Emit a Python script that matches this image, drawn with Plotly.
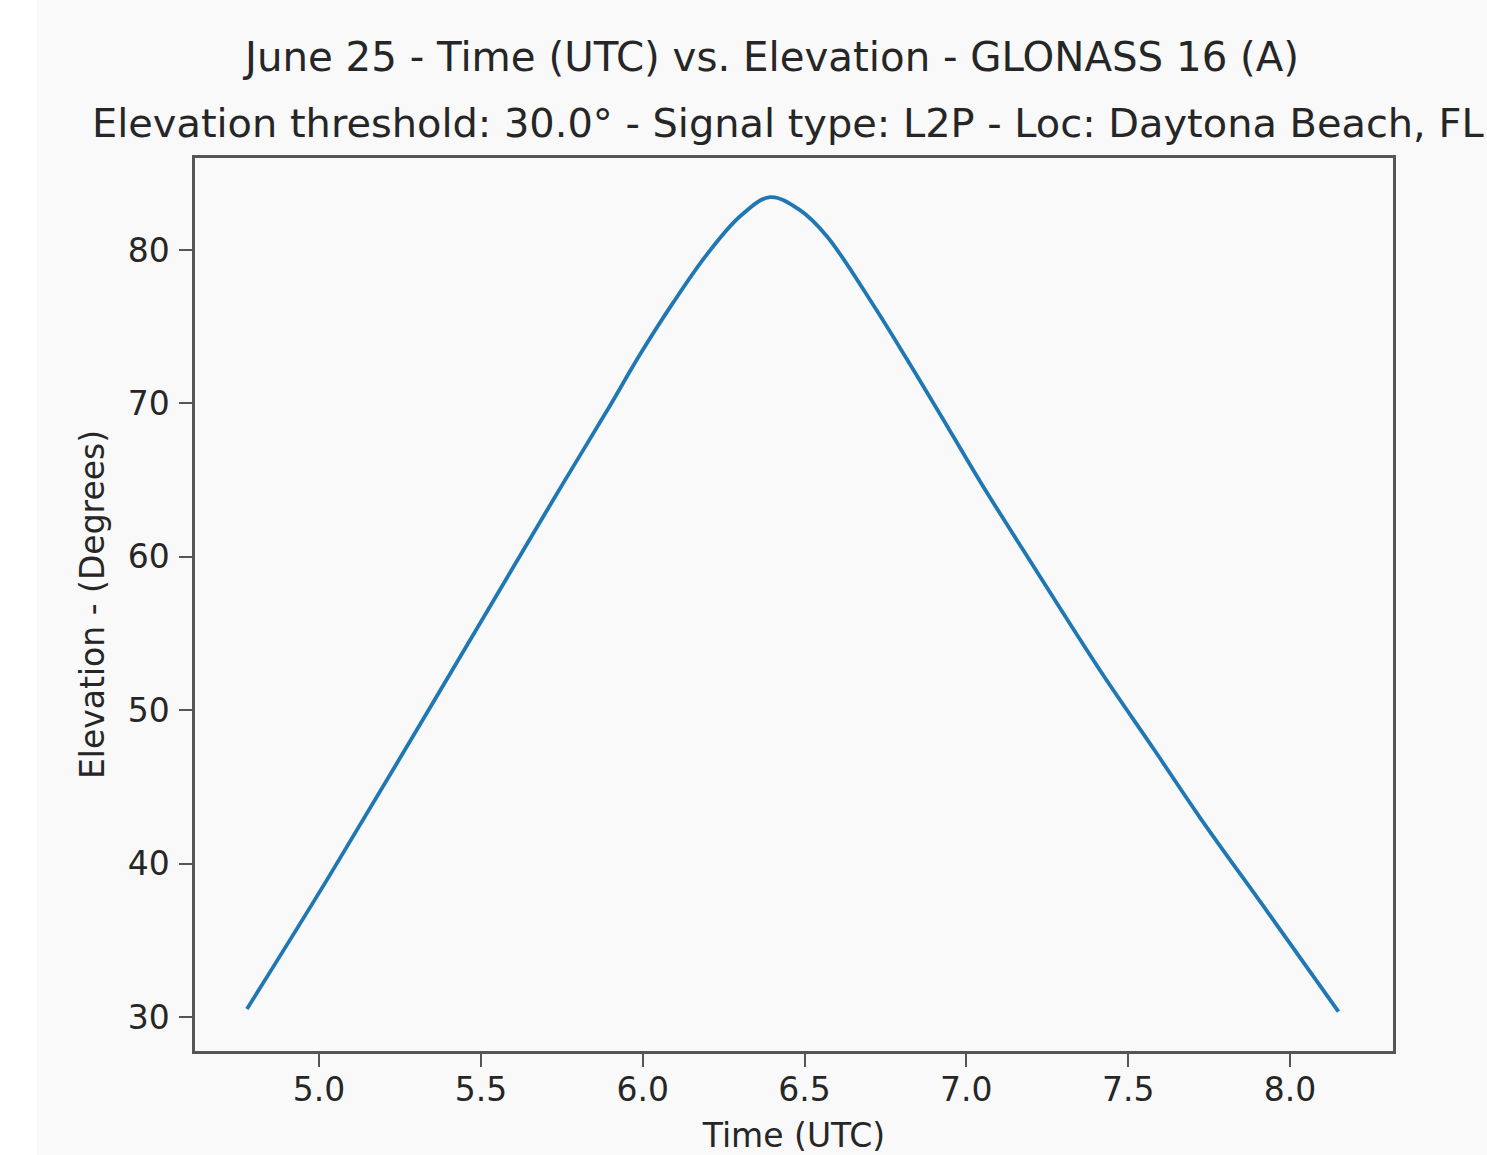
import plotly.graph_objects as go

# Data
time_utc = [4.777, 5.029, 5.338, 5.647, 5.760, 5.889, 5.992, 6.095, 6.198, 6.301,
            6.394, 6.486, 6.569, 6.713, 6.816, 6.919, 7.043, 7.207, 7.413, 7.578,
            7.722, 7.929, 8.150]
elevation = [30.52, 39.1, 50.0, 61.0, 65.0, 69.5, 73.2, 76.6, 79.7, 82.2,
             83.45, 82.6, 80.9, 76.4, 72.9, 69.3, 64.9, 59.4, 52.6, 47.5,
             43.0, 36.9, 30.35]

x_ticks = [5.0, 5.5, 6.0, 6.5, 7.0, 7.5, 8.0]
y_ticks = [30, 40, 50, 60, 70, 80]

title_main = "June 25 - Time (UTC) vs. Elevation - GLONASS 16 (A)"
title_sub = "Elevation threshold: 30.0° - Signal type: L2P - Loc: Daytona Beach, FL"
x_label = "Time (UTC)"
y_label = "Elevation - (Degrees)"

BG = "#f9f9f9"
TXT = "#262626"
AX = "#555555"
FONT = "DejaVu Sans"

fig = go.Figure()
fig.add_trace(go.Scatter(
    x=time_utc, y=elevation, mode="lines",
    line=dict(color="#1f77b4", width=3.8, shape="spline", smoothing=1.0),
    showlegend=False, hoverinfo="x+y",
))

W, H = 1487, 1155
L, R, T, B = 195, 94, 158, 104
pw, ph = W - L - R, H - T - B

def px_to_paper_x(px):
    return (px - L) / pw

def px_to_paper_y(py):
    return 1 - (py - T) / ph

axis_common = dict(
    showline=True, linecolor=AX, linewidth=2.5, mirror=True,
    ticks="outside", ticklen=13, tickwidth=2.2, tickcolor=AX,
    showgrid=False, zeroline=False, automargin=False,
    tickfont=dict(family=FONT, size=33, color=TXT),
)

fig.update_layout(
    width=W, height=H,
    margin=dict(l=L, r=R, t=T, b=B, pad=0),
    paper_bgcolor=BG, plot_bgcolor=BG,
    font=dict(family=FONT, color=TXT),
    xaxis=dict(range=[4.6165, 8.3185], tickvals=x_ticks,
               ticktext=[f"{v:.1f}" for v in x_ticks],
               title=dict(text=x_label, font=dict(family=FONT, size=33, color=TXT), standoff=20),
               ticklabelstandoff=-5,
               **axis_common),
    yaxis=dict(range=[27.78, 86.0], tickvals=y_ticks,
               ticktext=[str(v) for v in y_ticks],
               title=dict(text=y_label, font=dict(family=FONT, size=33, color=TXT), standoff=14),
               ticklabelstandoff=3,
               **axis_common),
    shapes=[dict(type="rect", xref="paper", yref="paper",
                 x0=px_to_paper_x(0), x1=px_to_paper_x(37),
                 y0=px_to_paper_y(H), y1=px_to_paper_y(0),
                 fillcolor="white", line=dict(width=0), layer="below")],
    annotations=[
        dict(text=title_main, xref="paper", yref="paper",
             x=px_to_paper_x(770.5), y=px_to_paper_y(57),
             xanchor="center", yanchor="middle", showarrow=False,
             font=dict(family=FONT, size=40.3, color=TXT)),
        dict(text=title_sub, xref="paper", yref="paper",
             x=px_to_paper_x(787.5), y=px_to_paper_y(123),
             xanchor="center", yanchor="middle", showarrow=False,
             font=dict(family=FONT, size=39.9, color=TXT)),
    ],
)

fig.write_html("out.html")
